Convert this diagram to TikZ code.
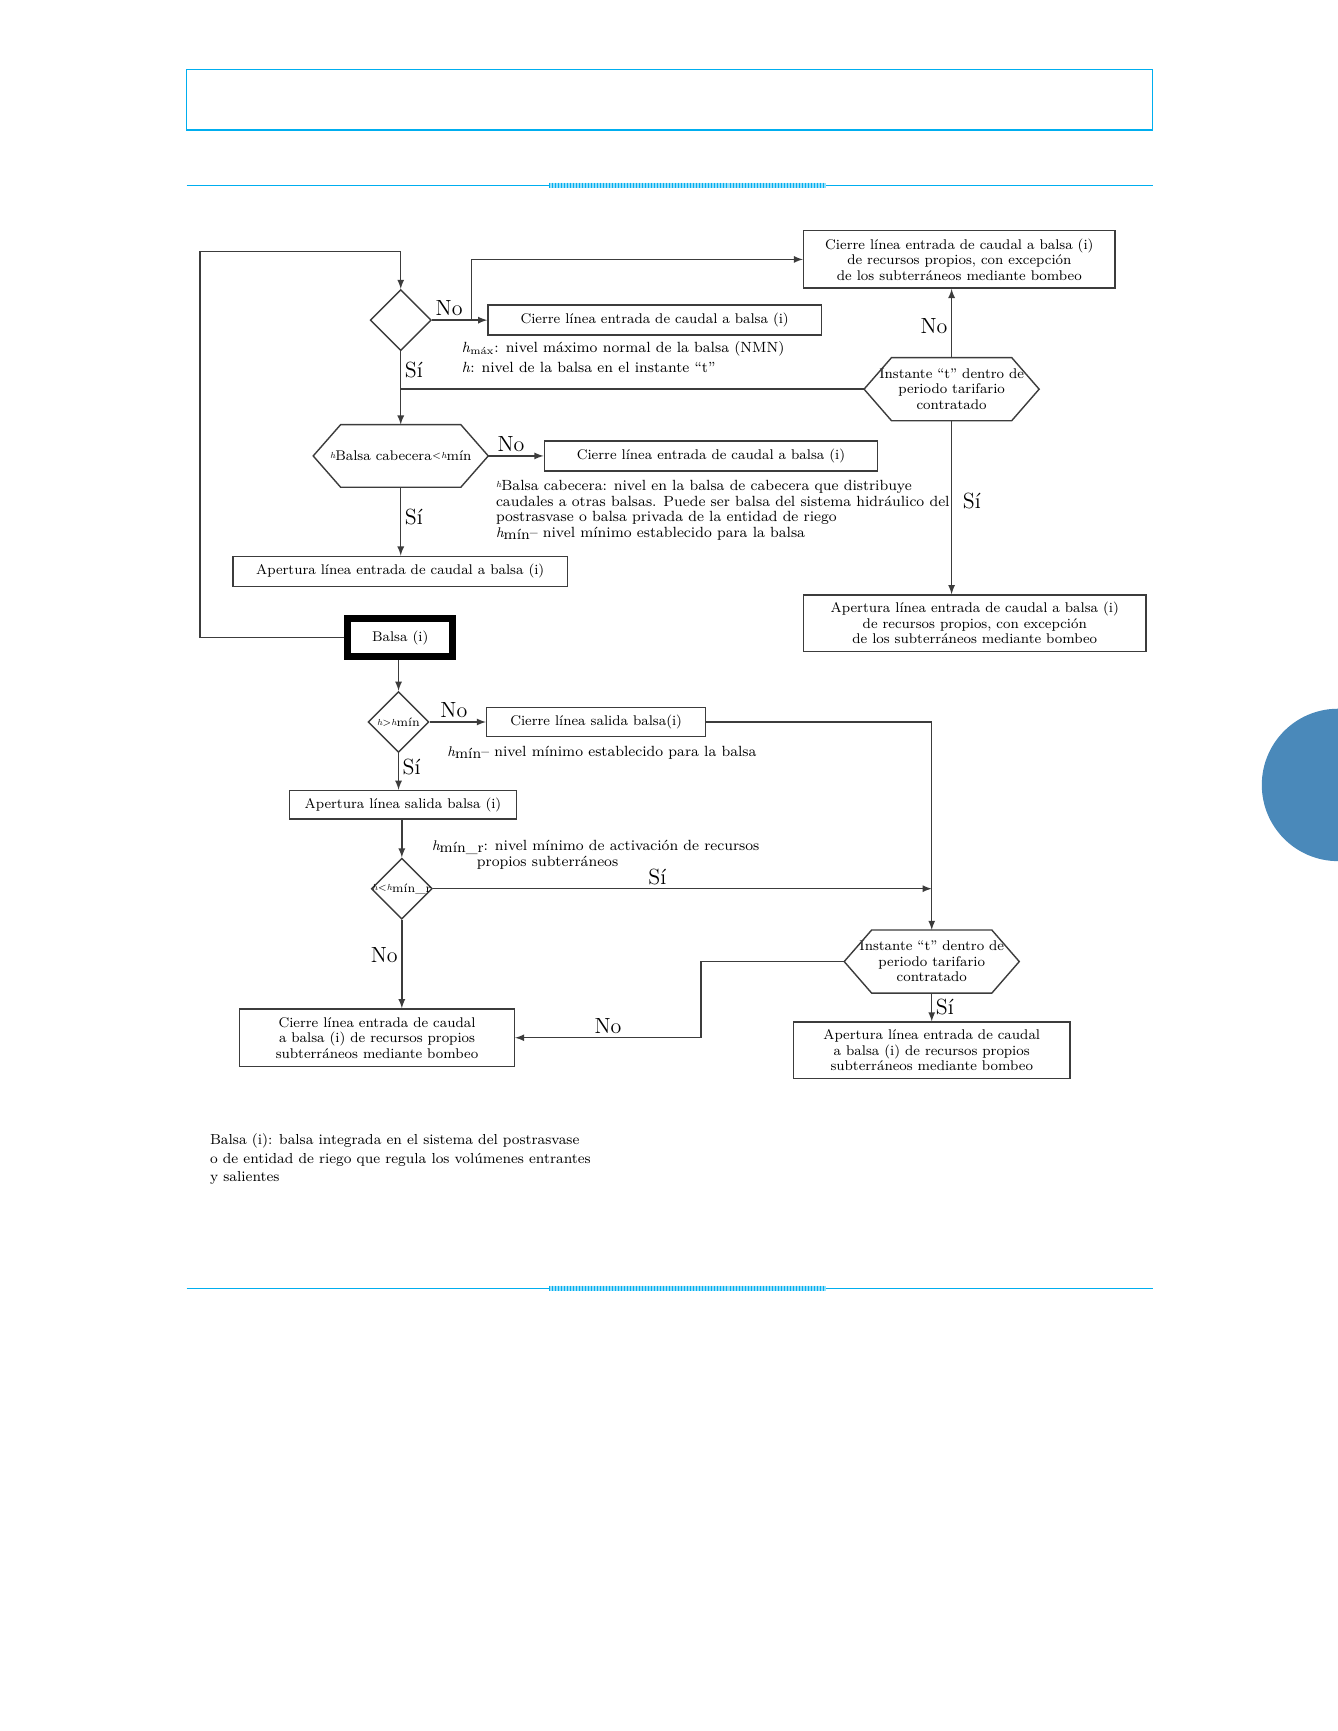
\documentclass[tikz,border=0pt]{standalone}
\usepackage{fontspec}
\usepackage{tikz}
\usetikzlibrary{positioning, arrows, shapes.geometric}

\definecolor{pageline}{HTML}{00AEEF}
\definecolor{tabblue}{HTML}{4A89BA}
\definecolor{flowline}{HTML}{3C3C3C}

\newcommand{\boxfont}{\fontsize{8.0}{8.8}\selectfont}
\newcommand{\notefont}{\fontsize{8.4}{8.8}\selectfont}
\newcommand{\hmark}[1]{\raisebox{.45ex}{\tiny\itshape h}#1}

\tikzstyle{process} = [rectangle, draw=flowline, line width=0.8pt, text centered, align=center, inner sep=1pt, font=\boxfont]
\tikzstyle{decision} = [diamond, draw=flowline, line width=0.8pt, minimum width=1.22cm, minimum height=1.22cm, inner sep=0pt]
\tikzstyle{choice} = [rectangle, align=center, inner sep=0pt, minimum width=3.49cm, minimum height=1.25cm, font=\boxfont]
\tikzstyle{arrow} = [line width=0.8pt, draw=flowline, ->, >=latex]
\tikzstyle{note} = [anchor=west, inner sep=0pt, align=left, font=\notefont]
\tikzstyle{answer} = [inner sep=2pt, font=\fontsize{12.5}{12.5}\selectfont]

\begin{document}
\begin{tikzpicture}[x=0.0221cm, y=-0.0221cm]
\useasboundingbox (0,0) rectangle (1212,1568);

% page frame
\draw[pageline, line width=1pt] (169,63) rectangle (1044,118);
\foreach \y in {168,1167} {
  \draw[pageline, line width=0.9pt] (169,\y) -- (1044,\y);
  \fill[pageline!40] (498,\y-2.5) rectangle (748,\y+2.5);
  \foreach \i in {0,...,91}
    \draw[pageline, line width=0.5pt] ({498+\i*2.72},\y-2.5) -- ++(0,5);
}
\fill[tabblue] (1212,711) circle (1.525cm);

% upper part
\node[decision] (chkmax) at (363,290) {};
\node[process, minimum width=6.67cm, minimum height=0.6cm] (closeA) at (593,290) {Cierre línea entrada de caudal a balsa (i)};
\node[process, minimum width=6.23cm, minimum height=1.15cm] (closeOwn) at (869,235) {Cierre línea entrada de caudal a balsa (i)\\de recursos propios, con excepción\\de los subterráneos mediante bombeo};
\node[choice] (tariffA) at (862,352.5) {Instante “t” dentro de\\periodo tarifario\\contratado};
\node[process, minimum width=6.85cm, minimum height=1.13cm] (openOwn) at (883,564.5) {Apertura línea entrada de caudal a balsa (i)\\de recursos propios, con excepción\\de los subterráneos mediante bombeo};
\node[choice, minimum height=1.24cm] (chkhead) at (363,413) {\hmark{Balsa cabecera}\raisebox{.45ex}{\tiny$<$\itshape h}mín};
\node[process, minimum width=6.67cm, minimum height=0.6cm] (closeB) at (644,413) {Cierre línea entrada de caudal a balsa (i)};
\node[process, minimum width=6.7cm, minimum height=0.6cm] (openA) at (362.5,517.5) {Apertura línea entrada de caudal a balsa (i)};
\node[rectangle, draw=black, line width=4pt, minimum width=2.09cm, minimum height=0.77cm, font=\boxfont] (balsa) at (362.5,577.5) {Balsa (i)};

\node[note] (noteMax) at (418,316) {\textit{h}\textsubscript{máx}: nivel máximo normal de la balsa (NMN)};
\node[note] (noteLevel) at (418,333) {\textit{h}: nivel de la balsa en el instante “t”};
\node[note, anchor=north west] (noteHead) at (449,435) {\hmark{Balsa cabecera}: nivel en la balsa de cabecera que distribuye\\caudales a otras balsas. Puede ser balsa del sistema hidráulico del\\postrasvase o balsa privada de la entidad de riego\\{\footnotesize\itshape h}\raisebox{-.3ex}{mín}– nivel mínimo establecido para la balsa};

% lower part
\node[decision, label=center:{\tiny\itshape h{\upshape >}h\raisebox{-.3ex}{\scriptsize\upshape mín}}] (chkmin) at (361,654) {};
\node[process, minimum width=4.38cm, minimum height=0.57cm] (closeOut) at (540,654) {Cierre línea salida balsa(i)};
\node[process, minimum width=4.55cm, minimum height=0.57cm] (openOut) at (365,729) {Apertura línea salida balsa (i)};
\node[decision, label=center:{\tiny\itshape h{\upshape <}h\raisebox{-.3ex}{\scriptsize\upshape mín\_r}}] (chkpump) at (364,805) {};
\node[process, minimum width=5.5cm, minimum height=1.15cm] (closePump) at (341.5,940) {Cierre línea entrada de caudal\\a balsa (i) de recursos propios\\subterráneos mediante bombeo};
\node[choice] (tariffB) at (844,871) {Instante “t” dentro de\\periodo tarifario\\contratado};
\node[process, minimum width=5.53cm, minimum height=1.13cm] (openPump) at (844,951.5) {Apertura línea entrada de caudal\\a balsa (i) de recursos propios\\subterráneos mediante bombeo};

\node[note] (noteMin) at (405,682) {{\footnotesize\itshape h}\raisebox{-.3ex}{mín}– nivel mínimo establecido para la balsa};
\node[note, anchor=north west] (notePump) at (391,761) {{\footnotesize\itshape h}\raisebox{-.3ex}{mín\_r}: nivel mínimo de activación de recursos\\\hspace*{0.9cm}propios subterráneos};
\node[note, anchor=north west, font=\fontsize{8.25}{10.4}\selectfont] (legend) at (190,1027) {Balsa (i): balsa integrada en el sistema del postrasvase\\o de entidad de riego que regula los volúmenes entrantes\\y salientes};

% hexagon outlines
\foreach \n in {tariffA, chkhead, tariffB}
  \draw[line width=0.8pt, flowline] (\n.west) -- ([xshift=0.55cm]\n.north west) -- ([xshift=-0.55cm]\n.north east) -- (\n.east) -- ([xshift=-0.55cm]\n.south east) -- ([xshift=0.55cm]\n.south west) -- cycle;

\coordinate (loopTop) at (181,228);
\coordinate (forkA) at (427,290);
\coordinate (turnB) at (635,871);

% connectors
\draw[arrow] (balsa.west) -| (loopTop) -| (chkmax.north);
\draw[arrow] (chkmax.east) -- node[answer, above, pos=0.31] {No} (closeA.west);
\draw[arrow] (forkA) |- (closeOwn.west);
\draw[arrow] (chkmax.south) -- node[answer, right, pos=0.25] {Sí} (chkhead.north);
\draw[arrow, -] (tariffA.west) -- (chkmax.south |- tariffA.west);
\draw[arrow] (tariffA.north) -- node[answer, left, pos=0.46] {No} (tariffA.north |- closeOwn.south);
\draw[arrow] (tariffA.south) -- node[answer, right=4pt, pos=0.46] {Sí} (tariffA.south |- openOwn.north);
\draw[arrow] (chkhead.east) -- node[answer, above, pos=0.41] {No} (closeB.west);
\draw[arrow] (chkhead.south) -- node[answer, right, pos=0.43] {Sí} (chkhead.south |- openA.north);
\draw[arrow] (chkmin.north |- balsa.south) -- (chkmin.north);
\draw[arrow] (chkmin.east) -- node[answer, above, pos=0.43] {No} (closeOut.west);
\draw[arrow] (closeOut.east) -| (tariffB.north);
\draw[arrow] (chkmin.south) -- node[answer, right, pos=0.37] {Sí} (chkmin.south |- openOut.north);
\draw[arrow] (chkpump.north |- openOut.south) -- (chkpump.north);
\draw[arrow] (chkpump.east) -- node[answer, above, pos=0.45] {Sí} (tariffB.north |- chkpump.east);
\draw[arrow] (chkpump.south) -- node[answer, left, pos=0.4] {No} (chkpump.south |- closePump.north);
\draw[arrow] (tariffB.west) -- (turnB) |- node[answer, above, pos=0.75] {No} (closePump.east);
\draw[arrow] (tariffB.south) -- node[answer, right, pos=0.5] {Sí} (openPump.north);
\end{tikzpicture}
\end{document}
